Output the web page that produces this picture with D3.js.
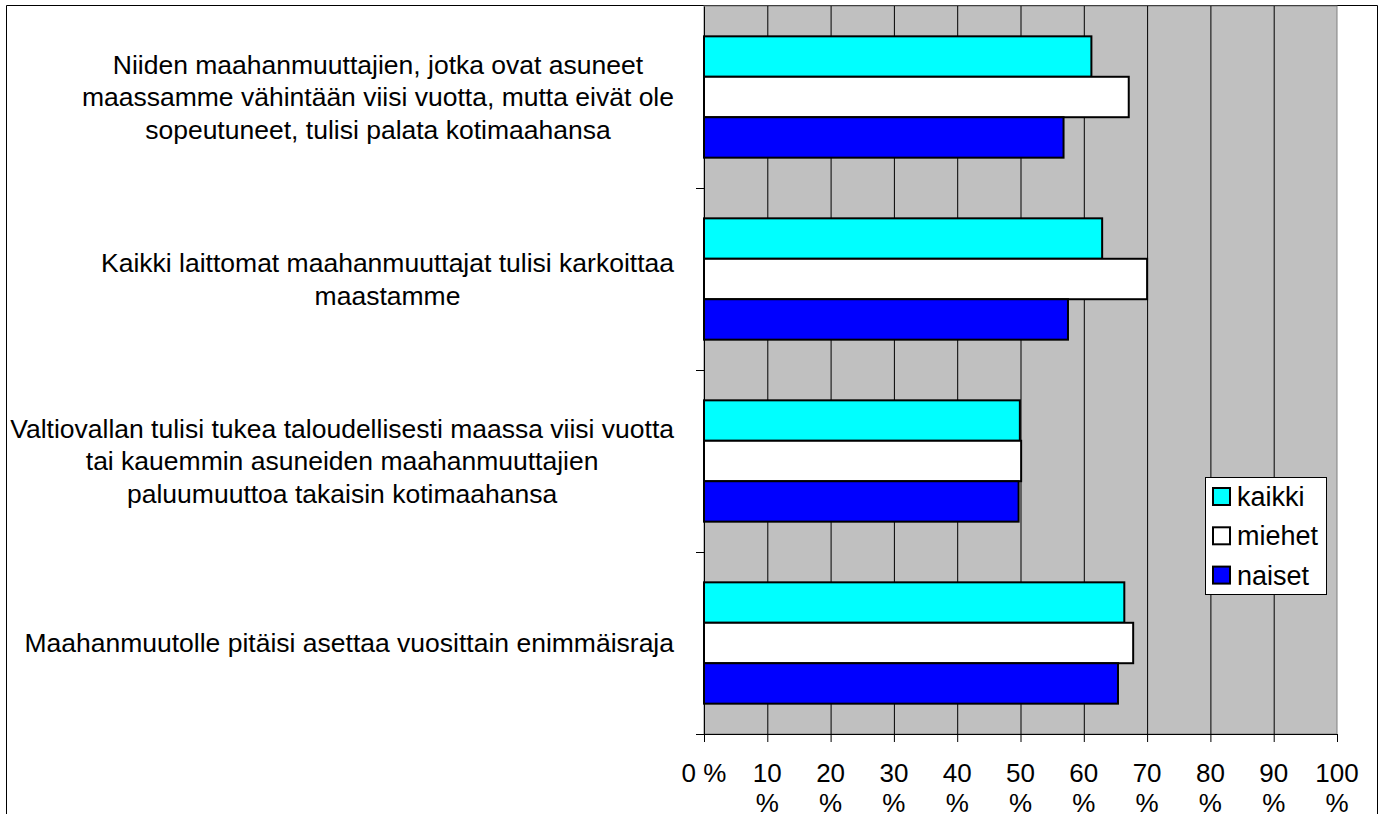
<!DOCTYPE html>
<html>
<head>
<meta charset="utf-8">
<script src="https://cdn.jsdelivr.net/npm/d3@7"></script>
<style>
  html, body { margin: 0; padding: 0; background: #fff; }
  svg { display: block; font-family: "Liberation Sans", Arial, sans-serif; }
</style>
</head>
<body>
<svg id="chart" width="1382" height="814"></svg>
<script>
// Data
const categories = [
    ['Niiden maahanmuuttajien, jotka ovat asuneet', 'maassamme vähintään viisi vuotta, mutta eivät ole', 'sopeutuneet, tulisi palata kotimaahansa'],
    ['Kaikki laittomat maahanmuuttajat tulisi karkoittaa', 'maastamme'],
    ['Valtiovallan tulisi tukea taloudellisesti maassa viisi vuotta', 'tai kauemmin asuneiden maahanmuuttajien', 'paluumuuttoa takaisin kotimaahansa'],
    ['Maahanmuutolle pitäisi asettaa vuosittain enimmäisraja']
];
const seriesNames = ['kaikki', 'miehet', 'naiset'];
const seriesColors = ['#00ffff', '#ffffff', '#0000ff'];
const kaikki = [61.2, 62.9, 49.9, 66.4];
const miehet = [67.1, 70.0, 50.1, 67.8];
const naiset = [56.8, 57.5, 49.7, 65.4];
const xTicks = [0, 10, 20, 30, 40, 50, 60, 70, 80, 90, 100];

const seriesValues = [kaikki, miehet, naiset];

// Layout
const plot = {left: 704, right: 1337, top: 6, bottom: 734};
const labelFont = 26.5;
const tickFont = 26;

const svg = d3.select('#chart');

// Chart border (bottom runs off the picture)
svg.append('path')
    .attr('d', 'M6.5,814 V5.5 H1377.5 V814')
    .attr('fill', 'none')
    .attr('stroke', '#000')
    .attr('stroke-width', 1);

const x = d3.scaleLinear()
    .domain([0, 100])
    .range([plot.left, plot.right]);

const y = d3.scaleBand()
    .domain(d3.range(categories.length))
    .range([plot.top, plot.bottom]);

const ySub = d3.scaleBand()
    .domain(seriesNames)
    .range([0, y.bandwidth()])
    .paddingOuter(0.75);

// Plot background
svg.append('rect')
    .attr('x', plot.left)
    .attr('y', plot.top)
    .attr('width', plot.right - plot.left)
    .attr('height', plot.bottom - plot.top)
    .attr('fill', '#c0c0c0')
    .attr('stroke', '#808080')
    .attr('stroke-width', 1);

// Gridlines
const grid = svg.append('g')
    .attr('transform', `translate(0,${plot.bottom})`)
    .call(d3.axisBottom(x)
        .tickValues(xTicks.slice(1, -1))
        .tickSize(-(plot.bottom - plot.top))
        .tickFormat(''));
grid.select('.domain').remove();
grid.selectAll('line').attr('stroke', '#000').attr('stroke-width', 1);

// Bars
const groups = svg.append('g')
    .selectAll('g')
    .data(categories)
    .enter()
    .append('g')
    .attr('transform', (d, i) => `translate(0,${y(i)})`);

groups.selectAll('rect')
    .data((d, i) => seriesNames.map((s, j) => ({series: s, value: seriesValues[j][i], color: seriesColors[j]})))
    .enter()
    .append('rect')
    .attr('x', x(0))
    .attr('y', d => ySub(d.series))
    .attr('width', d => x(d.value) - x(0))
    .attr('height', ySub.bandwidth())
    .attr('fill', d => d.color)
    .attr('stroke', '#000')
    .attr('stroke-width', 2);

// Category axis (ticks between categories)
const yEdges = d3.scaleLinear()
    .domain([0, categories.length])
    .range([plot.top, plot.bottom]);

const yAxis = svg.append('g')
    .attr('transform', `translate(${plot.left},0)`)
    .call(d3.axisLeft(yEdges)
        .tickValues(d3.range(1, categories.length + 1))
        .tickSize(8)
        .tickSizeOuter(0)
        .tickFormat(''));
yAxis.select('.domain').attr('stroke', '#000');
yAxis.selectAll('line').attr('stroke', '#000');

// Category labels: right-aligned block, lines centred inside it
const labelRight = 674;
const lineGap = 32.5;
categories.forEach((lines, i) => {
    const g = svg.append('g');
    const cy = y(i) + y.bandwidth() / 2;
    const texts = g.selectAll('text')
        .data(lines)
        .enter()
        .append('text')
        .attr('font-size', labelFont)
        .attr('text-anchor', 'middle')
        .attr('dy', '0.35em')
        .attr('y', (d, k) => cy + (k - (lines.length - 1) / 2) * lineGap)
        .text(d => d);
    let maxW = 0;
    texts.each(function() { maxW = Math.max(maxW, this.getComputedTextLength()); });
    texts.attr('x', labelRight - maxW / 2);
});

// Value axis
const xAxis = svg.append('g')
    .attr('transform', `translate(0,${plot.bottom})`)
    .call(d3.axisBottom(x)
        .tickValues(xTicks)
        .tickSize(8)
        .tickSizeOuter(0)
        .tickFormat(''));
xAxis.select('.domain').attr('d', `M${plot.left - 8},0.5H${plot.right}`).attr('stroke', '#000');
xAxis.selectAll('line').attr('stroke', '#000');

// Tick labels wrap onto two lines ("10" / "%"), except "0 %"
const tickLabels = svg.append('g')
    .selectAll('text')
    .data(xTicks)
    .enter()
    .append('text')
    .attr('font-size', tickFont)
    .attr('text-anchor', 'middle')
    .attr('x', d => x(d))
    .attr('y', 782);

tickLabels.each(function(d) {
    const t = d3.select(this);
    if (d === 0) {
        t.text('0 %');
    } else {
        t.append('tspan').attr('x', x(d)).text(d);
        t.append('tspan').attr('x', x(d)).attr('dy', 30).text('%');
    }
});

// Legend
const legend = svg.append('g').attr('transform', 'translate(1205,477)');
legend.append('rect')
    .attr('x', 0.5)
    .attr('y', 0.5)
    .attr('width', 121)
    .attr('height', 117)
    .attr('fill', '#fff')
    .attr('stroke', '#000')
    .attr('stroke-width', 1);

const items = legend.selectAll('g.item')
    .data(seriesNames)
    .enter()
    .append('g')
    .attr('class', 'item')
    .attr('transform', (d, i) => `translate(8,${11 + i * 39.3})`);

items.append('rect')
    .attr('width', 17)
    .attr('height', 17)
    .attr('fill', (d, i) => seriesColors[i])
    .attr('stroke', '#000')
    .attr('stroke-width', 2);

items.append('text')
    .attr('x', 24)
    .attr('y', 18)
    .attr('font-size', 27)
    .text(d => d);
</script>
</body>
</html>
